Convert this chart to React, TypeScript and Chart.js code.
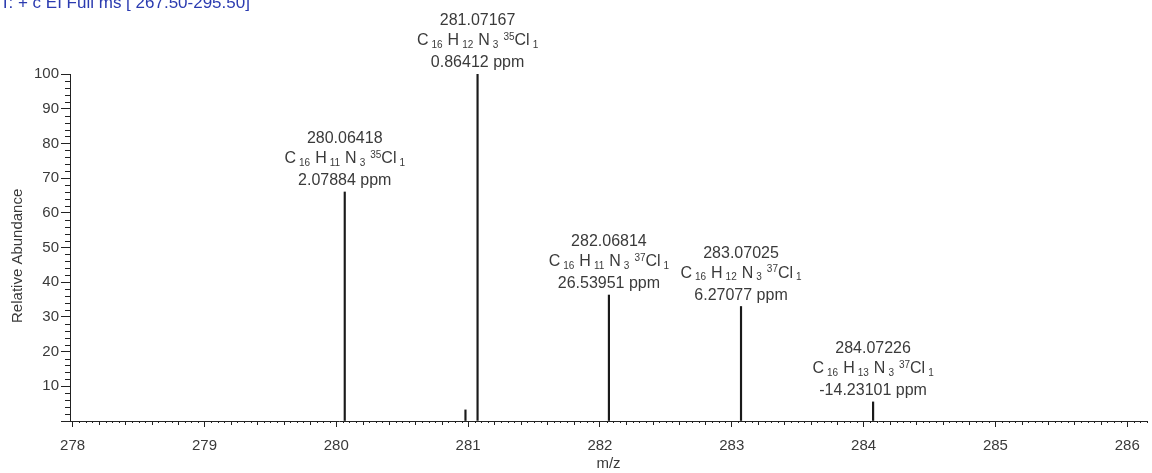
import React, { useEffect, useRef } from 'react';
import { Chart, registerables } from 'chart.js';

Chart.register(...registerables);

// ---- data ----
const mzValues = [280.06418, 280.98, 281.07167, 282.06814, 283.07025, 284.07226];
const intensities = [66.0, 3.2, 100, 36.3, 33.0, 5.5];
const massLabels = ['280.06418', '', '281.07167', '282.06814', '283.07025', '284.07226'];
const carbonCounts = ['16', '', '16', '16', '16', '16'];
const hydrogenCounts = ['11', '', '12', '11', '12', '13'];
const nitrogenCounts = ['3', '', '3', '3', '3', '3'];
const chlorineIsotopes = ['35', '', '35', '37', '37', '37'];
const ppmLabels = ['2.07884 ppm', '', '0.86412 ppm', '26.53951 ppm', '6.27077 ppm', '-14.23101 ppm'];
const xTickValues = [278, 279, 280, 281, 282, 283, 284, 285, 286];
const yTickValues = [0, 10, 20, 30, 40, 50, 60, 70, 80, 90, 100];
const scanTitle = 'T: + c EI Full ms [ 267.50-295.50]';
const xMin = 277.98;
const xMax = 286.15;

const FONT = '"Liberation Sans", Arial, sans-serif';
const TEXT = '#3a3a3a';

const annotationPlugin = {
  id: 'peakAnnotations',
  afterDatasetsDraw(chart: any) {
    const ctx = chart.ctx;
    const meta = chart.getDatasetMeta(0);
    ctx.save();
    ctx.fillStyle = TEXT;
    ctx.textBaseline = 'middle';
    meta.data.forEach((bar: any, i: number) => {
      if (!massLabels[i]) return;
      const x = bar.x;
      const top = bar.y;
      ctx.font = `16px ${FONT}`;
      ctx.textAlign = 'center';
      ctx.fillText(massLabels[i], x, top - 53);
      ctx.fillText(ppmLabels[i], x, top - 11);
      // formula with sub/superscripts
      const segs: { t: string; k: 'n' | 'sub' | 'sup'; gap: number }[] = [
        { t: 'C', k: 'n', gap: 3 },
        { t: carbonCounts[i], k: 'sub', gap: 5 },
        { t: 'H', k: 'n', gap: 3 },
        { t: hydrogenCounts[i], k: 'sub', gap: 5 },
        { t: 'N', k: 'n', gap: 3 },
        { t: nitrogenCounts[i], k: 'sub', gap: 5 },
        { t: chlorineIsotopes[i], k: 'sup', gap: 0 },
        { t: 'Cl', k: 'n', gap: 3 },
        { t: '1', k: 'sub', gap: 0 },
      ];
      const fontFor = (k: string) => (k === 'n' ? `16px ${FONT}` : `10px ${FONT}`);
      let total = 0;
      segs.forEach((s, j) => {
        ctx.font = fontFor(s.k);
        total += ctx.measureText(s.t).width + (j < segs.length - 1 ? s.gap : 0);
      });
      let cx = x - total / 2;
      const fy = top - 33;
      ctx.textAlign = 'left';
      segs.forEach((s) => {
        ctx.font = fontFor(s.k);
        const dy = s.k === 'sub' ? 4 : s.k === 'sup' ? -4 : 0;
        ctx.fillText(s.t, cx, fy + dy);
        cx += ctx.measureText(s.t).width + s.gap;
      });
    });
    ctx.restore();
  },
  afterDraw(chart: any) {
    const ctx = chart.ctx;
    const xs = chart.scales.x;
    const ys = chart.scales.y;
    const area = chart.chartArea;
    ctx.save();
    ctx.strokeStyle = '#222';
    ctx.lineWidth = 1;
    ctx.beginPath();
    // x minor ticks every 0.05, medium every 0.2
    for (let k = Math.ceil(xMin * 20); k <= Math.floor(xMax * 20); k++) {
      if (k % 20 === 0) continue;
      const v = k / 20;
      const px = Math.round(xs.getPixelForValue(v)) + 0.5;
      const len = k % 4 === 0 ? 4 : 2;
      ctx.moveTo(px, area.bottom);
      ctx.lineTo(px, area.bottom + len);
    }
    // y minor ticks every 2
    for (let v = 2; v < 100; v += 2) {
      if (v % 10 === 0) continue;
      const py = Math.round(ys.getPixelForValue(v)) + 0.5;
      ctx.moveTo(area.left, py);
      ctx.lineTo(area.left - 5, py);
    }
    ctx.stroke();
    // scan title (partially cut at top)
    ctx.fillStyle = '#2b3bb0';
    ctx.font = `17px ${FONT}`;
    ctx.textAlign = 'left';
    ctx.textBaseline = 'alphabetic';
    ctx.fillText(scanTitle, 0, 8);
    ctx.restore();
  },
};

export default function App() {
  const ref = useRef<HTMLCanvasElement>(null);
  useEffect(() => {
    if (!ref.current) return;
    const chart = new Chart(ref.current, {
      type: 'bar',
      data: {
        datasets: [
          {
            data: mzValues.map((m, i) => ({ x: m, y: intensities[i] })),
            backgroundColor: '#1a1a1a',
            borderWidth: 0,
            barThickness: 1.5,
          },
        ],
      },
      options: {
        responsive: false,
        animation: false,
        events: [],
        layout: { padding: { left: 0, top: 74, right: 5, bottom: 0 } },
        plugins: { legend: { display: false }, tooltip: { enabled: false } },
        scales: {
          x: {
            type: 'linear',
            min: xMin,
            max: xMax,
            offset: false,
            afterBuildTicks: (s: any) => {
              s.ticks = xTickValues.map((v) => ({ value: v }));
            },
            afterFit: (s: any) => {
              s.height = 52;
            },
            grid: { display: true, drawOnChartArea: false, offset: false, tickLength: 6, tickColor: '#222', tickWidth: 1 },
            border: { display: true, color: '#222', width: 1 },
            ticks: {
              autoSkip: false,
              maxRotation: 0,
              padding: 10,
              color: TEXT,
              font: { family: FONT, size: 15 },
              callback: (v: any) => String(v),
            },
            title: {
              display: true,
              text: 'm/z',
              color: TEXT,
              font: { family: FONT, size: 15 },
              padding: { top: 0, bottom: 0 },
            },
          },
          y: {
            type: 'linear',
            min: 0,
            max: 100,
            afterBuildTicks: (s: any) => {
              s.ticks = yTickValues.map((v) => ({ value: v }));
            },
            afterFit: (s: any) => {
              s.width = 70;
            },
            grid: { display: true, drawOnChartArea: false, tickLength: 9, tickColor: '#222', tickWidth: 1 },
            border: { display: true, color: '#222', width: 1 },
            ticks: {
              autoSkip: false,
              padding: 2,
              color: TEXT,
              font: { family: FONT, size: 15 },
              callback: (v: any) => (v === 0 ? '' : String(v)),
            },
            title: {
              display: true,
              text: 'Relative Abundance    ',
              color: TEXT,
              font: { family: FONT, size: 15 },
              padding: { top: 9, bottom: 0 },
            },
          },
        },
      },
      plugins: [annotationPlugin],
    } as any);
    return () => chart.destroy();
  }, []);
  return (
    <div style={{ position: 'absolute', left: 0, top: 0, width: 1152, height: 473, background: '#fff' }}>
      <canvas ref={ref} width={1152} height={473} />
    </div>
  );
}
